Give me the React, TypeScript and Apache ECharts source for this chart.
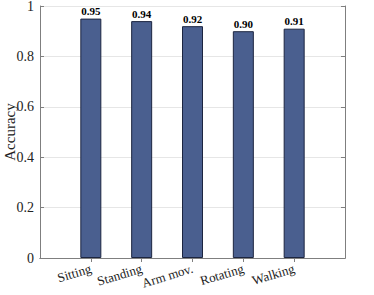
import React, { useEffect, useRef } from "react";
import * as echarts from "echarts";

const categories = ["Sitting", "Standing", "Arm mov.", "Rotating", "Walking"];
const accuracy = [0.95, 0.94, 0.92, 0.9, 0.91];
const yTicks = { min: 0, max: 1, interval: 0.2 };
const yAxisTitle = "Accuracy";

const FONT = "'Liberation Serif', 'Times New Roman', serif";
const AXIS_COLOR = "#7f7f7f";

export default function App() {
  const ref = useRef<HTMLDivElement>(null);
  useEffect(() => {
    if (!ref.current) return;
    const chart = echarts.init(ref.current, undefined, { renderer: "svg" });
    const cats = ["", ...categories, ""];
    const vals: (number | null)[] = [null, ...accuracy, null];
    chart.setOption({
      animation: false,
      grid: { left: 40, right: 29, top: 6, bottom: 37, containLabel: false, outerBoundsMode: "none" },
      graphic: [
        {
          type: "text",
          x: 10,
          y: 132,
          rotation: Math.PI / 2,
          style: {
            text: yAxisTitle,
            fontFamily: FONT,
            fontSize: 15,
            fill: "#222",
            align: "center",
            verticalAlign: "middle",
          },
        },
      ],
      xAxis: [
        {
          type: "category",
          data: cats,
          boundaryGap: false,
          position: "bottom",
          axisLine: { show: true, lineStyle: { color: AXIS_COLOR, width: 1 } },
          axisTick: { show: true, inside: true, length: 4, lineStyle: { color: AXIS_COLOR } },
          axisLabel: {
            rotate: 17,
            fontFamily: FONT,
            fontSize: 13,
            color: "#222",
            margin: 10,
            interval: 0,
          },
          splitLine: { show: false },
        },
        {
          type: "category",
          data: cats,
          boundaryGap: false,
          position: "top",
          axisLine: { show: true, lineStyle: { color: AXIS_COLOR, width: 1 } },
          axisTick: { show: true, inside: true, length: 4, lineStyle: { color: AXIS_COLOR }, interval: (i: number) => i > 0 && i < cats.length - 1 },
          axisLabel: { show: false },
          splitLine: { show: false },
        },
      ],
      yAxis: [
        {
          type: "value",
          min: yTicks.min,
          max: yTicks.max,
          interval: yTicks.interval,
          axisLine: { show: true, lineStyle: { color: AXIS_COLOR, width: 1 } },
          axisTick: { show: true, inside: true, length: 4, lineStyle: { color: AXIS_COLOR } },
          axisLabel: { fontFamily: FONT, fontSize: 14, color: "#222", margin: 6 },
          splitLine: { show: true, lineStyle: { color: "#e6e6e6", width: 1 } },
        },
        {
          type: "value",
          min: yTicks.min,
          max: yTicks.max,
          interval: yTicks.interval,
          position: "right",
          axisLine: { show: true, lineStyle: { color: AXIS_COLOR, width: 1 } },
          axisTick: { show: true, inside: true, length: 4, lineStyle: { color: AXIS_COLOR } },
          axisLabel: { show: false },
          splitLine: { show: false },
        },
      ],
      series: [
        {
          type: "bar",
          data: vals,
          barWidth: 21,
          itemStyle: { color: "#4a5f8f", borderColor: "#1c2540", borderWidth: 1 },
          label: {
            show: true,
            position: "top",
            distance: 2,
            fontFamily: FONT,
            fontWeight: "bold",
            fontSize: 11,
            color: "#000",
            formatter: (p: any) => (p.value == null ? "" : Number(p.value).toFixed(2)),
          },
        },
      ],
    });
    return () => chart.dispose();
  }, []);
  return <div ref={ref} style={{ width: 374, height: 295, position: "absolute", left: 0, top: 0, background: "#fff" }} />;
}
